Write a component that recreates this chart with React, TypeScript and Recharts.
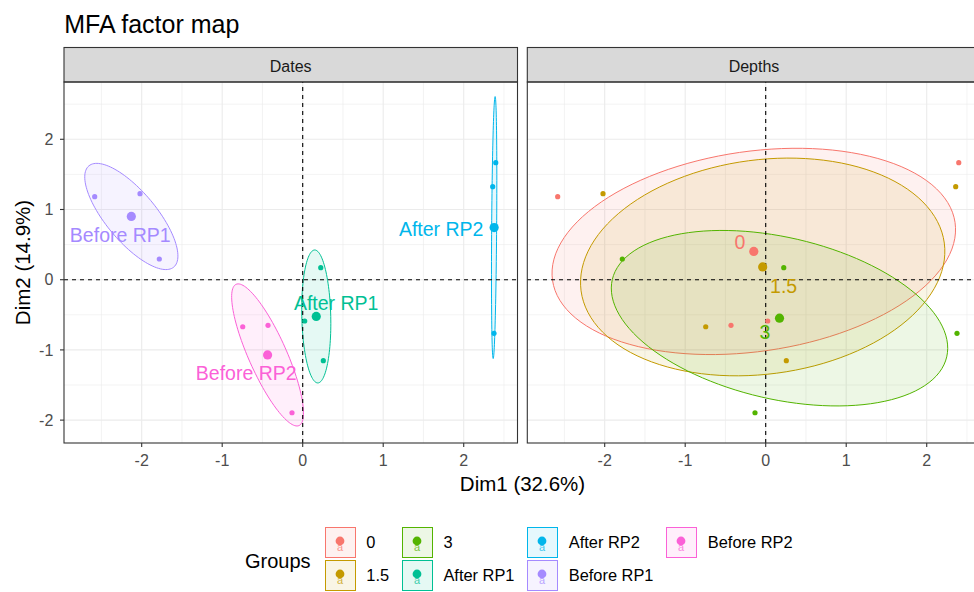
import React from 'react';
import { ScatterChart, Scatter, XAxis, YAxis, ReferenceLine, ReferenceArea } from 'recharts';

const FONT = '"Liberation Sans", Arial, Helvetica, sans-serif';

// individuals: coordinates on Dim1 / Dim2, with their date and depth
const DIM1 = [-2.584, -2.021, -1.781, 0.025, 0.256, 0.224, -0.431, -0.745, -0.133, 2.398, 2.36, 2.376];
const DIM2 = [1.182, 1.225, 0.295, -0.588, -1.154, 0.171, -0.65, -0.67, -1.895, 1.667, 1.325, -0.764];
const DATE = [
  'Before RP1', 'Before RP1', 'Before RP1',
  'After RP1', 'After RP1', 'After RP1',
  'Before RP2', 'Before RP2', 'Before RP2',
  'After RP2', 'After RP2', 'After RP2',
];
const DEPTH = ['0', '1.5', '3', '0', '1.5', '3', '0', '1.5', '3', '0', '1.5', '3'];

const GROUPS = ['0', '1.5', '3', 'After RP1', 'After RP2', 'Before RP1', 'Before RP2'];
const GROUP_COLORS = ['#F8766D', '#C49A00', '#53B400', '#00C094', '#00B6EB', '#A58AFF', '#FB61D7'];
const DATE_GROUPS = ['Before RP1', 'After RP1', 'Before RP2', 'After RP2'];
const DEPTH_GROUPS = ['0', '1.5', '3'];

// repelled group labels (text centre), per GROUPS
const LABEL_X = [-0.32, 0.223, -0.01, 0.416, 1.72, -2.266, -0.702];
const LABEL_Y = [0.53, -0.09, -0.75, -0.336, 0.726, 0.637, -1.333];

// ellipse semi-axis vectors (data units), per GROUPS
const ELLIPSE_A = [[2.5, 0.413], [2.256, 0.34], [2.077, -0.551], [0.019, -0.947], [-0.012, -1.866], [0.527, -0.721], [0.391, -1.006]];
const ELLIPSE_B = [[0.178, -1.41], [0.174, -1.513], [-0.227, -1.122], [0.18, 0], [0.031, 0], [-0.239, -0.229], [-0.215, -0.111]];

const X_TICKS = [-2, -1, 0, 1, 2];
const Y_TICKS = [-2, -1, 0, 1, 2];
const X_MINOR = [-2.5, -1.5, -0.5, 0.5, 1.5, 2.5];
const Y_MINOR = [-1.5, -0.5, 0.5, 1.5, 2.5];
const X_DOMAIN = [-2.965, 2.668];
const Y_DOMAIN = [-2.326, 2.816];

const colorOf = (g: string) => GROUP_COLORS[GROUPS.indexOf(g)];

function groupPoints(field: string[], g: string) {
  return DIM1.map((x, i) => ({ x, y: DIM2[i], g: field[i] })).filter((d) => d.g === g);
}

function groupMean(pts: { x: number; y: number }[]) {
  const n = pts.length;
  return {
    x: pts.reduce((s, p) => s + p.x, 0) / n,
    y: pts.reduce((s, p) => s + p.y, 0) / n,
  };
}

// draws the ellipse inside a +-1 unit reference box, so the box gives the scale
const ellipseShape = (a: number[], b: number[], color: string) => (p: any) => {
  const ux = p.width / 2;
  const uy = p.height / 2;
  const cx = p.x + ux;
  const cy = p.y + uy;
  const pts: string[] = [];
  for (let i = 0; i < 120; i++) {
    const t = (i / 120) * 2 * Math.PI;
    const dx = a[0] * Math.cos(t) + b[0] * Math.sin(t);
    const dy = a[1] * Math.cos(t) + b[1] * Math.sin(t);
    pts.push(`${(cx + dx * ux).toFixed(2)},${(cy - dy * uy).toFixed(2)}`);
  }
  return <polygon points={pts.join(' ')} fill={color} fillOpacity={0.1} stroke={color} strokeWidth={1} />;
};

const dot = (r: number, color: string) => (p: any) => <circle cx={p.cx} cy={p.cy} r={r} fill={color} />;

const labelShape = (color: string) => (p: any) => (
  <text x={p.cx} y={p.cy} dy="0.355em" textAnchor="middle" fill={color} fontSize={19.5} fontFamily={FONT}>
    {p.payload.name}
  </text>
);

function FactorPanel({ field, groups, width, showYAxis }: { field: string[]; groups: string[]; width: number; showYAxis: boolean }) {
  const tickStyle = { fill: '#4d4d4d', fontSize: 16, fontFamily: FONT };
  return (
    <ScatterChart width={width} height={401} margin={{ top: 0, right: 0.5, bottom: 0, left: 0 }}>
      <XAxis
        type="number"
        dataKey="x"
        domain={X_DOMAIN}
        ticks={X_TICKS}
        interval={0}
        allowDataOverflow
        height={40}
        tickSize={4}
        tickMargin={8}
        axisLine={false}
        tickLine={{ stroke: '#333333', strokeWidth: 1.1 }}
        tick={tickStyle}
      />
      <YAxis
        type="number"
        dataKey="y"
        domain={Y_DOMAIN}
        ticks={Y_TICKS}
        interval={0}
        allowDataOverflow
        hide={!showYAxis}
        width={64}
        tickSize={4}
        tickMargin={6.7}
        axisLine={false}
        tickLine={{ stroke: '#333333', strokeWidth: 1.1 }}
        tick={tickStyle}
      />
      {X_MINOR.map((v) => (
        <ReferenceLine key={'xm' + v} x={v} stroke="#ebebeb" strokeWidth={0.6} zIndex={-60} />
      ))}
      {Y_MINOR.map((v) => (
        <ReferenceLine key={'ym' + v} y={v} stroke="#ebebeb" strokeWidth={0.6} zIndex={-60} />
      ))}
      {X_TICKS.map((v) => (
        <ReferenceLine key={'xM' + v} x={v} stroke="#ebebeb" strokeWidth={1.1} zIndex={-50} />
      ))}
      {Y_TICKS.map((v) => (
        <ReferenceLine key={'yM' + v} y={v} stroke="#ebebeb" strokeWidth={1.1} zIndex={-50} />
      ))}
      {groups.map((g) => {
        const gi = GROUPS.indexOf(g);
        const m = groupMean(groupPoints(field, g));
        return (
          <ReferenceArea
            key={'el' + g}
            x1={m.x - 1}
            x2={m.x + 1}
            y1={m.y - 1}
            y2={m.y + 1}
            ifOverflow="visible"
            zIndex={50}
            shape={ellipseShape(ELLIPSE_A[gi], ELLIPSE_B[gi], GROUP_COLORS[gi])}
          />
        );
      })}
      <ReferenceLine x={0} stroke="#000" strokeWidth={1.1} strokeDasharray="4 4" zIndex={60} />
      <ReferenceLine y={0} stroke="#000" strokeWidth={1.1} strokeDasharray="4 4" zIndex={60} />
      {groups.map((g) => (
        <Scatter key={'pt' + g} data={groupPoints(field, g)} shape={dot(2.6, colorOf(g))} isAnimationActive={false} />
      ))}
      {groups.map((g) => (
        <Scatter key={'mn' + g} data={[groupMean(groupPoints(field, g))]} shape={dot(4.6, colorOf(g))} isAnimationActive={false} />
      ))}
      {groups.map((g) => {
        const gi = GROUPS.indexOf(g);
        return (
          <Scatter
            key={'lb' + g}
            data={[{ x: LABEL_X[gi], y: LABEL_Y[gi], name: g }]}
            shape={labelShape(GROUP_COLORS[gi])}
            isAnimationActive={false}
            zIndex={700}
          />
        );
      })}
    </ScatterChart>
  );
}

function LegendKey({ color }: { color: string }) {
  return (
    <div
      style={{
        width: 31,
        height: 31,
        boxSizing: 'border-box',
        border: `1.5px solid ${color}`,
        background: color + '1a',
      }}
    >
      <svg width={28} height={28} style={{ display: 'block' }}>
        <text x={14} y={22.5} textAnchor="middle" fontSize={11} fontFamily={FONT} fill={color} opacity={0.75}>
          a
        </text>
        <circle cx={14} cy={13} r={4.4} fill={color} />
      </svg>
    </div>
  );
}

export default function App() {
  return (
    <div
      style={{
        position: 'absolute',
        left: 0,
        top: 0,
        width: 974,
        height: 592,
        overflow: 'hidden',
        background: '#ffffff',
        fontFamily: FONT,
      }}
    >
      <div style={{ position: 'absolute', left: 0, top: 82 }}>
        <FactorPanel field={DATE} groups={DATE_GROUPS} width={518} showYAxis />
      </div>
      <div style={{ position: 'absolute', left: 527.3, top: 82 }}>
        <FactorPanel field={DEPTH} groups={DEPTH_GROUPS} width={454} showYAxis={false} />
      </div>

      {/* title, strips, panel frames and axis titles */}
      <svg width={974} height={592} style={{ position: 'absolute', left: 0, top: 0, pointerEvents: 'none' }}>
        <text x={64.3} y={33.3} fontSize={25} fontFamily={FONT} fill="#000">
          MFA factor map
        </text>
        <rect x={64} y={47.5} width={453.5} height={34.5} fill="#d9d9d9" stroke="#333333" strokeWidth={1.1} />
        <rect x={527.3} y={47.5} width={460} height={34.5} fill="#d9d9d9" stroke="#333333" strokeWidth={1.1} />
        <text x={290.7} y={72.3} textAnchor="middle" fontSize={16} fontFamily={FONT} fill="#1a1a1a">
          Dates
        </text>
        <text x={754} y={72.3} textAnchor="middle" fontSize={16} fontFamily={FONT} fill="#1a1a1a">
          Depths
        </text>
        <rect x={64} y={82} width={453.5} height={361} fill="none" stroke="#333333" strokeWidth={1.1} />
        <rect x={527.3} y={82} width={460} height={361} fill="none" stroke="#333333" strokeWidth={1.1} />
        <text x={522.5} y={491} textAnchor="middle" fontSize={20.5} fontFamily={FONT} fill="#000">
          Dim1 (32.6%)
        </text>
        <text transform="translate(30,262.5) rotate(-90)" textAnchor="middle" fontSize={20.5} fontFamily={FONT} fill="#000">
          Dim2 (14.9%)
        </text>
      </svg>

      {/* legend */}
      <div style={{ position: 'absolute', left: 245, top: 549, fontSize: 20, lineHeight: '24px', color: '#000' }}>Groups</div>
      <div
        style={{
          position: 'absolute',
          left: 325,
          top: 527,
          display: 'grid',
          gridTemplateRows: '31px 31px',
          gridAutoFlow: 'column',
          rowGap: 1.7,
        }}
      >
        {GROUPS.map((g, i) => (
          <div key={g} style={{ display: 'flex', alignItems: 'center', paddingRight: 13 }}>
            <LegendKey color={GROUP_COLORS[i]} />
            <span style={{ marginLeft: 10.3, fontSize: 16.4, color: '#000', whiteSpace: 'nowrap' }}>{g}</span>
          </div>
        ))}
      </div>
    </div>
  );
}
